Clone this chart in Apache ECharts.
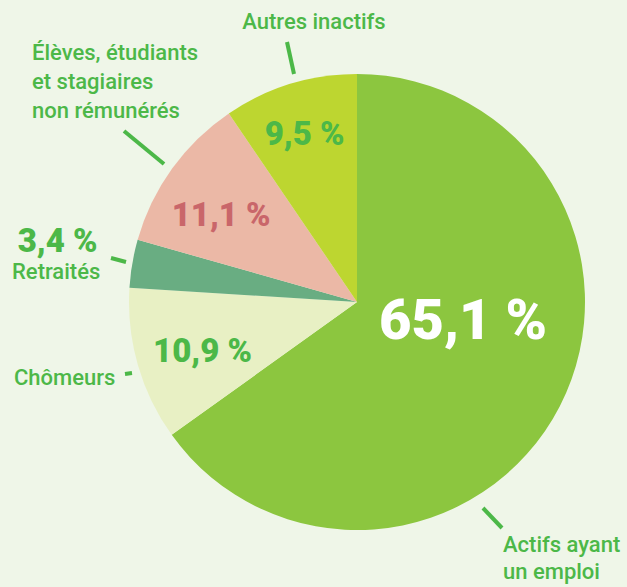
<!DOCTYPE html>
<html>
<head>
<meta charset="utf-8">
<script src="https://cdn.jsdelivr.net/npm/echarts@6/dist/echarts.min.js"></script>
<style>
  html, body { margin: 0; padding: 0; background: #eff6e8; }
  #main { width: 627px; height: 587px; }
</style>
</head>
<body>
<div id="main"></div>
<script>
// données
var categories = ['Actifs ayant\nun emploi', 'Chômeurs', 'Retraités', 'Élèves, étudiants\net stagiaires\nnon rémunérés', 'Autres inactifs'];
var values = [65.1, 10.9, 3.4, 11.1, 9.5];
var colors = ['#8cc63f', '#e8f0c4', '#69ad82', '#ebb8a6', '#bdd630'];

// réglages des étiquettes (pourcentages)
var pctColors = ['#ffffff', '#4cb848', '#4cb848', '#c9666a', '#4cb848'];
var pctSizes = [56, 33, 33, 33, 33];
var pctShift = [[2, -35], [-42, 16], [-184, -42], [-41, -19], [-18, -57]];

// noms + petits traits
var nameBox = [
  { x: 503, y: 558, align: 'left', lh: 27 },
  { x: 14, y: 377, align: 'left', lh: 29 },
  { x: 12, y: 271, align: 'left', lh: 29 },
  { x: 32, y: 81, align: 'left', lh: 29 },
  { x: 314, y: 21, align: 'center', lh: 29 }
];
var ticks = [
  [483, 508, 502, 528],
  [125, 374, 132, 373],
  [111, 258, 126, 262],
  [124, 131, 164, 164],
  [287, 42, 294, 74]
];

var green = '#4cb848';
var chart = echarts.init(document.getElementById('main'), null, { renderer: 'svg' });

var pieData = [];
for (var i = 0; i < values.length; i++) {
  pieData.push({
    name: categories[i],
    value: values[i],
    itemStyle: { color: colors[i] },
    label: { color: pctColors[i], fontSize: pctSizes[i] }
  });
}

var graphics = [];
for (var i = 0; i < categories.length; i++) {
  graphics.push({
    type: 'text',
    style: {
      text: categories[i],
      x: nameBox[i].x,
      y: nameBox[i].y,
      fill: green,
      font: '500 22px Roboto',
      lineHeight: nameBox[i].lh,
      textAlign: nameBox[i].align,
      textVerticalAlign: 'middle'
    }
  });
  graphics.push({
    type: 'line',
    shape: { x1: ticks[i][0], y1: ticks[i][1], x2: ticks[i][2], y2: ticks[i][3] },
    style: { stroke: green, lineWidth: 4 }
  });
}

var option = {
  backgroundColor: '#eff6e8',
  animation: false,
  series: [{
    type: 'pie',
    center: [357, 302],
    radius: 228,
    startAngle: 90,
    clockwise: true,
    data: pieData,
    label: {
      show: true,
      position: 'inside',
      fontFamily: 'Roboto',
      fontWeight: 900,
      formatter: function (p) {
        return p.value.toFixed(1).replace('.', ',') + ' %';
      }
    },
    labelLine: { show: false },
    labelLayout: function (params) {
      var s = pctShift[params.dataIndex];
      return { dx: s[0], dy: s[1] };
    },
    emphasis: { disabled: true }
  }],
  graphic: graphics
};
chart.setOption(option);
</script>
</body>
</html>
